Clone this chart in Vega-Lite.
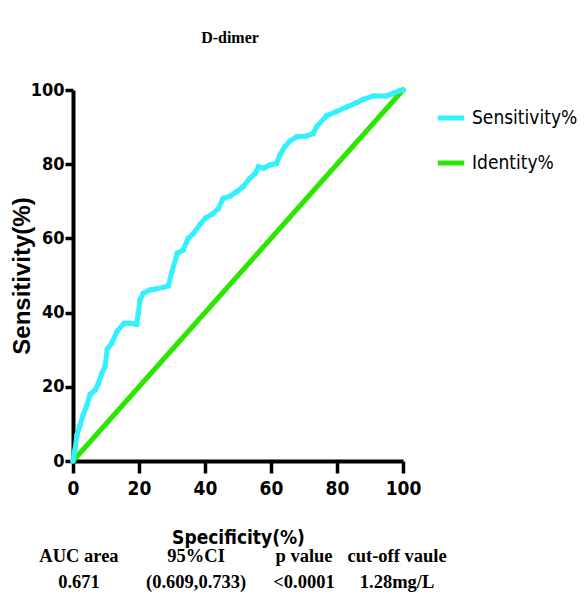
{
  "$schema": "https://vega.github.io/schema/vega-lite/v6.json",
  "autosize": {"type": "none"},
  "padding": {"left": 73, "top": 90, "right": 184, "bottom": 155},
  "width": 330,
  "height": 371,
  "background": "white",
  "title": {
    "text": "D-dimer",
    "font": "Liberation Serif",
    "fontSize": 16,
    "fontWeight": "bold",
    "color": "black",
    "anchor": "middle",
    "dx": -8,
    "offset": 34
  },
  "config": {"view": {"stroke": null}},
  "encoding": {
    "x": {
      "field": "x",
      "type": "quantitative",
      "scale": {"domain": [0, 100], "nice": false, "zero": false},
      "axis": {
        "title": "Specificity(%)",
        "titleFont": "DejaVu Sans Condensed",
        "titleFontSize": 19,
        "titleFontWeight": "bold",
        "titleColor": "black",
        "titlePadding": 30,
        "values": [0, 20, 40, 60, 80, 100],
        "grid": false,
        "domainColor": "black",
        "domainWidth": 4,
        "tickColor": "black",
        "tickWidth": 3.5,
        "tickSize": 12,
        "labelFont": "DejaVu Sans Condensed",
        "labelFontSize": 19,
        "labelFontWeight": "bold",
        "labelColor": "black",
        "labelPadding": 6,
        "labelFlush": false
      }
    },
    "y": {
      "field": "y",
      "type": "quantitative",
      "scale": {"domain": [0, 100], "nice": false, "zero": false},
      "axis": {
        "title": "Sensitivity(%)",
        "titleFont": "Liberation Sans",
        "titleFontSize": 24,
        "titleFontWeight": "bold",
        "titleColor": "black",
        "titleX": -51,
        "titleBaseline": "middle",
        "values": [0, 20, 40, 60, 80, 100],
        "grid": false,
        "domainColor": "black",
        "domainWidth": 4,
        "tickColor": "black",
        "tickWidth": 3.5,
        "tickSize": 8,
        "labelFont": "DejaVu Sans Condensed",
        "labelFontSize": 18,
        "labelFontWeight": "bold",
        "labelColor": "black",
        "labelPadding": 1,
        "labelFlush": false
      }
    }
  },
  "layer": [
    {
      "data": {
        "values": [
          {"series": "Identity%", "x": 0, "y": 0},
          {"series": "Identity%", "x": 100, "y": 100},
          {"series": "Sensitivity%", "x": 0, "y": 0},
          {"series": "Sensitivity%", "x": 0.6, "y": 3},
          {"series": "Sensitivity%", "x": 1.2, "y": 7},
          {"series": "Sensitivity%", "x": 2.1, "y": 9.5},
          {"series": "Sensitivity%", "x": 3.1, "y": 12.5},
          {"series": "Sensitivity%", "x": 4.2, "y": 15},
          {"series": "Sensitivity%", "x": 5.2, "y": 18},
          {"series": "Sensitivity%", "x": 6.7, "y": 19.1},
          {"series": "Sensitivity%", "x": 7.7, "y": 20.9},
          {"series": "Sensitivity%", "x": 8.7, "y": 23.6},
          {"series": "Sensitivity%", "x": 9.7, "y": 25.4},
          {"series": "Sensitivity%", "x": 10.4, "y": 30.2},
          {"series": "Sensitivity%", "x": 11.7, "y": 31.7},
          {"series": "Sensitivity%", "x": 13.4, "y": 35},
          {"series": "Sensitivity%", "x": 15.5, "y": 37.1},
          {"series": "Sensitivity%", "x": 17.3, "y": 37.1},
          {"series": "Sensitivity%", "x": 19.3, "y": 36.8},
          {"series": "Sensitivity%", "x": 19.8, "y": 39.8},
          {"series": "Sensitivity%", "x": 20.3, "y": 43.4},
          {"series": "Sensitivity%", "x": 21.3, "y": 45.2},
          {"series": "Sensitivity%", "x": 23.3, "y": 46.1},
          {"series": "Sensitivity%", "x": 25.4, "y": 46.4},
          {"series": "Sensitivity%", "x": 27.4, "y": 46.8},
          {"series": "Sensitivity%", "x": 28.9, "y": 47.2},
          {"series": "Sensitivity%", "x": 29.9, "y": 50.8},
          {"series": "Sensitivity%", "x": 31.6, "y": 56},
          {"series": "Sensitivity%", "x": 33.4, "y": 56.9},
          {"series": "Sensitivity%", "x": 34.9, "y": 60},
          {"series": "Sensitivity%", "x": 36.5, "y": 61.3},
          {"series": "Sensitivity%", "x": 38.5, "y": 63.8},
          {"series": "Sensitivity%", "x": 40.3, "y": 65.6},
          {"series": "Sensitivity%", "x": 42.2, "y": 66.5},
          {"series": "Sensitivity%", "x": 44, "y": 68},
          {"series": "Sensitivity%", "x": 45.5, "y": 70.8},
          {"series": "Sensitivity%", "x": 47.6, "y": 71.4},
          {"series": "Sensitivity%", "x": 49.6, "y": 72.6},
          {"series": "Sensitivity%", "x": 51.6, "y": 74},
          {"series": "Sensitivity%", "x": 53.6, "y": 76.2},
          {"series": "Sensitivity%", "x": 55.2, "y": 77.5},
          {"series": "Sensitivity%", "x": 56.2, "y": 79.3},
          {"series": "Sensitivity%", "x": 57.7, "y": 78.9},
          {"series": "Sensitivity%", "x": 59.7, "y": 79.8},
          {"series": "Sensitivity%", "x": 61.7, "y": 80.2},
          {"series": "Sensitivity%", "x": 62.7, "y": 82.5},
          {"series": "Sensitivity%", "x": 64.2, "y": 84.7},
          {"series": "Sensitivity%", "x": 65.8, "y": 86.3},
          {"series": "Sensitivity%", "x": 67.8, "y": 87.4},
          {"series": "Sensitivity%", "x": 70.8, "y": 87.6},
          {"series": "Sensitivity%", "x": 72.8, "y": 88.3},
          {"series": "Sensitivity%", "x": 73.8, "y": 90.1},
          {"series": "Sensitivity%", "x": 76.9, "y": 93.1},
          {"series": "Sensitivity%", "x": 79.9, "y": 94.2},
          {"series": "Sensitivity%", "x": 82.9, "y": 95.4},
          {"series": "Sensitivity%", "x": 86, "y": 96.6},
          {"series": "Sensitivity%", "x": 88, "y": 97.5},
          {"series": "Sensitivity%", "x": 91, "y": 98.4},
          {"series": "Sensitivity%", "x": 95, "y": 98.4},
          {"series": "Sensitivity%", "x": 97, "y": 99.1},
          {"series": "Sensitivity%", "x": 99, "y": 99.8},
          {"series": "Sensitivity%", "x": 100, "y": 100}
        ]
      },
      "mark": {
        "type": "line",
        "strokeWidth": 5,
        "point": {"filled": true, "size": 30}
      },
      "encoding": {
        "color": {
          "field": "series",
          "type": "nominal",
          "scale": {"domain": ["Sensitivity%", "Identity%"], "range": ["#33F0FF", "#2AE600"]},
          "legend": {
            "title": null,
            "orient": "none",
            "legendX": 362,
            "legendY": 12,
            "symbolType": "stroke",
            "symbolSize": 700,
            "symbolStrokeWidth": 5,
            "labelFont": "DejaVu Sans Condensed",
            "labelFontSize": 19,
            "labelColor": "black",
            "labelOffset": 5,
            "rowPadding": 19
          }
        },
        "order": {"field": "x", "type": "quantitative"}
      }
    },
    {
      "data": {
        "values": [
          {"label": "AUC area", "x": 1.8, "y": -25.6},
          {"label": "95%CI", "x": 37.3, "y": -25.6},
          {"label": "p value", "x": 70, "y": -25.6},
          {"label": "cut-off vaule", "x": 98.2, "y": -25.6},
          {"label": "0.671", "x": 1.8, "y": -32.6},
          {"label": "(0.609,0.733)", "x": 37.3, "y": -32.6},
          {"label": "<0.0001", "x": 70, "y": -32.6},
          {"label": "1.28mg/L", "x": 98.2, "y": -32.6}
        ]
      },
      "mark": {
        "type": "text",
        "font": "Liberation Serif",
        "fontSize": 18.5,
        "fontWeight": "bold",
        "color": "black",
        "align": "center",
        "baseline": "middle",
        "clip": false
      },
      "encoding": {
        "text": {"field": "label", "type": "nominal"}
      }
    }
  ]
}
